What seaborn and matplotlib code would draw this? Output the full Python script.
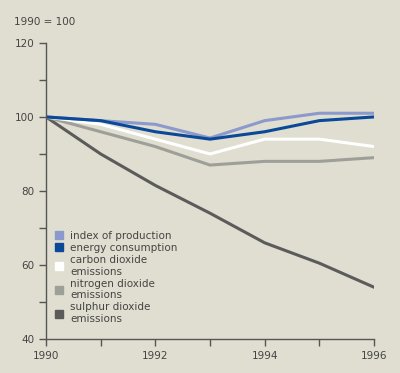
import pandas as pd
import matplotlib.pyplot as plt
import seaborn as sns

years = [1990, 1991, 1992, 1993, 1994, 1995, 1996]
production = [100, 99, 98, 94.3, 99, 101, 101]
energy = [100, 99, 96, 94, 96, 99, 100]
carbon = [100, 98, 94, 90, 94, 94, 92]
nitrogen = [100, 96, 92, 87, 88, 88, 89]
sulphur = [100, 90, 81.5, 74, 66, 60.5, 54]

names = ["index of production", "energy consumption", "carbon dioxide\nemissions",
         "nitrogen dioxide\nemissions", "sulphur dioxide\nemissions"]
colors = ["#8b99cc", "#0a4898", "#ffffff", "#9f9f99", "#5b5b5b"]

rows = []
for name, vals in zip(names, [production, energy, carbon, nitrogen, sulphur]):
    for y, v in zip(years, vals):
        rows.append({"year": y, "value": v, "series": name})
df = pd.DataFrame(rows)

bg = "#e0ded0"
plt.rcParams['font.family'] = ['DejaVu Sans']
fig = plt.figure(figsize=(4, 3.73), dpi=100, facecolor=bg)
ax = fig.add_axes([0.115, 0.091, 0.82, 0.794])
ax.set_facecolor(bg)

# draw back to front so the lighter lines sit on top like the original
order = [4, 3, 2, 0, 1]
for i in order:
    sub = df[df.series == names[i]]
    sns.lineplot(data=sub, x="year", y="value", color=colors[i], lw=2.2, ax=ax,
                 legend=False)

ax.set_xlim(1990, 1996)
ax.set_ylim(40, 120)
ax.set_xticks(range(1990, 1997))
ax.set_xticklabels([str(y) if y % 2 == 0 else "" for y in range(1990, 1997)])
ax.set_yticks(range(40, 121, 10))
ax.set_yticklabels([str(v) if v % 20 == 0 else "" for v in range(40, 121, 10)])
ax.set_xlabel("")
ax.set_ylabel("")
for s in ["top", "right"]:
    ax.spines[s].set_visible(False)
for s in ["left", "bottom"]:
    ax.spines[s].set_color("#555555")
    ax.spines[s].set_linewidth(1)
ax.tick_params(colors="#555555", labelcolor="#444444", labelsize=7.5, length=5, width=1)

fig.text(0.035, 0.94, "1990 = 100", fontsize=7.5, color="#444444", va="center")

handles = [plt.Line2D([], [], marker="s", ls="", color=c, markersize=5.5) for c in colors]
ax.legend(handles, names, loc="upper left", bbox_to_anchor=(0.0, 0.39), frameon=False,
          fontsize=7.5, labelcolor="#444444", handlelength=1.0, handletextpad=0.6,
          labelspacing=0.2, borderaxespad=0.3)

fig.savefig("out.png", dpi=100, facecolor=bg)
